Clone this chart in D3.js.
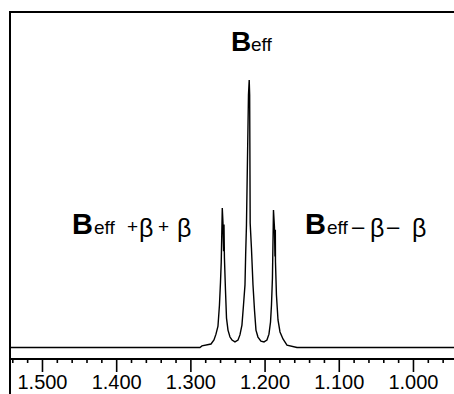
<!DOCTYPE html>
<html>
<head>
<meta charset="utf-8">
<script src="https://cdn.jsdelivr.net/npm/d3@7"></script>
<style>
  html, body { margin: 0; padding: 0; background: #fff; }
  svg { display: block; }
  text { font-family: "Liberation Sans", Arial, sans-serif; fill: #000; }
</style>
</head>
<body>
<svg id="chart" width="454" height="394"></svg>
<script>
// ---- data (chemical shift, relative intensity) ----
const shiftPpm = [1.543, 1.2871, 1.2844, 1.2722, 1.2682, 1.2655, 1.2628, 1.2608, 1.2594, 1.2584,
  1.2570, 1.2561, 1.2552, 1.2547, 1.2541, 1.2527, 1.2513, 1.2493, 1.2466, 1.2439, 1.2399,
  1.2358, 1.2332, 1.2305, 1.2284, 1.2264, 1.2255, 1.2244, 1.2217, 1.2207, 1.2201, 1.2194,
  1.2177, 1.2156, 1.2136, 1.2116, 1.2089, 1.2049, 1.2008, 1.1968, 1.1941,
  1.1920, 1.1907, 1.1894, 1.1880, 1.1867, 1.1860, 1.1855, 1.1853, 1.1840, 1.1819, 1.1792,
  1.1752, 1.1698, 1.1563, 0.9447];
const intensity = [0, 0, 0.6, 1.3, 2.8, 5.0, 8.0, 15.9, 24.5, 32.0,
  52.1, 46.9, 36.0, 46.0, 33.5, 21.5, 11.0, 6.5, 3.9, 2.8, 2.1,
  2.8, 4.7, 8.4, 15.9, 23.4, 34.6, 45.8, 94.4, 100, 94.4, 46.5,
  37.2, 23.4, 14.0, 6.5, 3.9, 2.4, 2.1, 2.8, 5.0,
  9.5, 15.9, 26.0, 51.4, 45.0, 34.0, 44.0, 32.0, 19.6, 10.3, 5.8,
  3.2, 0.9, 0, 0];
const majorTicks = [1.5, 1.4, 1.3, 1.2, 1.1, 1.0];
const minorTicks = [1.54, 1.52, 1.48, 1.46, 1.44, 1.42, 1.38, 1.36, 1.34, 1.32, 1.28, 1.26,
  1.24, 1.22, 1.18, 1.16, 1.14, 1.12, 1.08, 1.06, 1.04, 1.02, 0.98, 0.96];
const tickLabels = ["1.500", "1.400", "1.300", "1.200", "1.100", "1.000"];

const W = 454, H = 394;
const svg = d3.select("#chart");

const x = d3.scaleLinear().domain([1.5431, 0.9447]).range([10, 454]);
const y = d3.scaleLinear().domain([0, 100]).range([347.5, 80]);
const axisY = 359;

// frame: top and left
svg.append("line").attr("x1", x.range()[0]).attr("x2", W).attr("y1", 12).attr("y2", 12)
  .attr("stroke", "#000").attr("stroke-width", 2);
svg.append("line").attr("x1", x.range()[0]).attr("x2", x.range()[0]).attr("y1", 11).attr("y2", H)
  .attr("stroke", "#000").attr("stroke-width", 2);

// spectrum
const pts = shiftPpm.map((p, i) => [p, intensity[i]]);
svg.append("path").datum(pts)
  .attr("fill", "none").attr("stroke", "#000").attr("stroke-width", 1.4)
  .attr("stroke-linejoin", "miter")
  .attr("d", d3.line().x(d => x(d[0])).y(d => y(d[1])));

// axis
const gMinor = svg.append("g").attr("transform", `translate(0,${axisY})`)
  .call(d3.axisBottom(x).tickValues(minorTicks).tickSize(4).tickFormat(""));
const gMajor = svg.append("g").attr("transform", `translate(0,${axisY})`)
  .call(d3.axisBottom(x).tickValues(majorTicks).tickSize(13).tickPadding(5)
    .tickFormat((d, i) => tickLabels[i]));
[gMinor, gMajor].forEach(g => {
  g.select(".domain").remove();
  g.selectAll(".tick line").attr("stroke", "#000").attr("stroke-width", 1.6);
});
gMajor.selectAll(".tick text")
  .attr("font-family", "Liberation Sans, Arial, sans-serif")
  .attr("font-size", 20).attr("fill", "#000").attr("dy", "0.71em").attr("y", 16);
svg.append("line").attr("x1", x.range()[0]).attr("x2", W).attr("y1", axisY).attr("y2", axisY)
  .attr("stroke", "#000").attr("stroke-width", 2);

// labels
function label(parts) {
  const t = svg.append("text");
  parts.forEach(p => {
    t.append("tspan").attr("x", p.x).attr("y", p.y)
      .attr("font-size", p.size).attr("font-weight", p.bold ? "bold" : "normal")
      .text(p.t);
  });
}
label([
  { t: "B", x: 231, y: 51, size: 28, bold: true },
  { t: "eff", x: 251, y: 51, size: 19 }
]);
label([
  { t: "B", x: 72, y: 234, size: 29, bold: true },
  { t: "eff", x: 94, y: 234, size: 19 },
  { t: "+", x: 127, y: 233, size: 19 },
  { t: "β", x: 139, y: 237, size: 25 },
  { t: "+", x: 158, y: 233, size: 19 },
  { t: "β", x: 177, y: 237, size: 25 }
]);
label([
  { t: "B", x: 305, y: 234, size: 29, bold: true },
  { t: "eff", x: 327, y: 234, size: 19 },
  { t: "–", x: 352, y: 234, size: 22 },
  { t: "β", x: 370, y: 237, size: 25 },
  { t: "–", x: 387, y: 234, size: 22 },
  { t: "β", x: 412, y: 237, size: 25 }
]);
</script>
</body>
</html>
